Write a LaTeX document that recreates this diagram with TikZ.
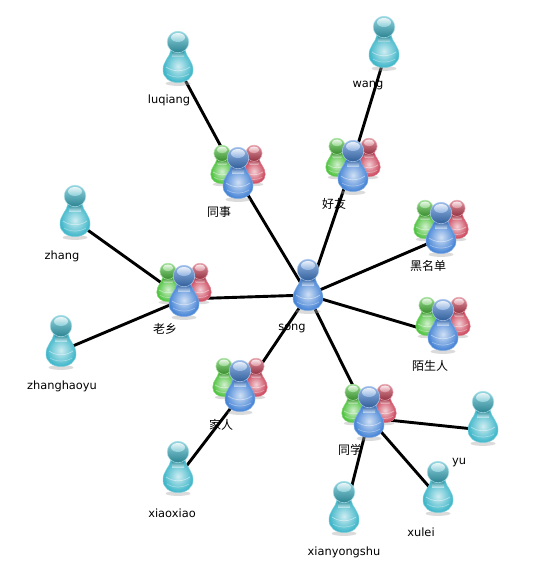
\documentclass[tikz,border=0pt]{standalone}
\usepackage{xcolor}
\usepackage{fontspec}
\setmainfont{DejaVu Sans}
\newfontfamily\cjk{Noto Sans CJK SC}
\usetikzlibrary{positioning}
\definecolor{usrTeal}{HTML}{3DB6C9}
\definecolor{usrBlue}{HTML}{4483D6}
\definecolor{usrGreen}{HTML}{4CC23C}
\definecolor{usrRed}{HTML}{CC4359}

\begin{document}
\begin{tikzpicture}[
  x=1pt, y=-1pt,
  hub/.style={inner sep=0pt, minimum size=0pt},
  lab/.style={inner sep=0pt, font=\fontsize{11.4}{13}\selectfont},
  cjklab/.style={inner sep=0pt, font=\fontsize{12}{14}\selectfont\cjk},
  link/.style={draw=black, line width=2.9pt},
  pics/person/.style={code={
    \fill[black!35, opacity=.4] (0,16.5) ellipse (12.5 and 2.4);
    \shade[inner color=#1!25!white, outer color=#1, draw=#1!70!white, line width=.5pt]
      (-7,-17) .. controls (-8,-10) and (-15,-6) .. (-15,3)
      .. controls (-15,11) and (-8,15.5) .. (0,15.5)
      .. controls (8,15.5) and (15,11) .. (15,3)
      .. controls (15,-6) and (8,-10) .. (7,-17) -- cycle;
    \shade[top color=#1!75!black, bottom color=#1!35!white, opacity=.9]
      (-6,-16) rectangle (6,-10);
    \draw[white, opacity=.45, line width=.7pt] (-12,0) .. controls (-5,5) and (5,5) .. (12,0);
    \draw[white, opacity=.35, line width=.7pt] (-11,7) .. controls (-5,11) and (5,11) .. (11,7);
    \shade[top color=#1!55!white, bottom color=#1!72!black, draw=#1!45!white, line width=.5pt]
      (0,-25) circle (10.8);
    \shade[top color=white, bottom color=#1!55!white, opacity=.8]
      (0,-29.5) ellipse (7 and 4.5);
  }},
  pics/usergroup/.style={code={
    \pic[scale=.75] at (-16,-11) {person=usrGreen};
    \pic[scale=.75] at (16,-11) {person=usrRed};
    \pic at (0,0) {person=usrBlue};
  }}
]
\useasboundingbox (0,0) rectangle (541,580);
\fill[white] (0,0) rectangle (541,580);

% the centres
\node[hub] (song) at (308,295) {};
\node[hub] (tongshi) at (239,180) {};
\node[hub] (haoyou) at (348,177) {};
\node[hub] (heimingdan) at (441,238) {};
\node[hub] (moshengren) at (443,335) {};
\node[hub] (laoxiang) at (184,299) {};
\node[hub] (jiaren) at (240,396) {};
\node[hub] (tongxue) at (369,418) {};

\node[hub] (luqiang) at (178,67) {};
\node[hub] (wang) at (386,52) {};
\node[hub] (zhang) at (75,221) {};
\node[hub] (zhanghaoyu) at (61,351) {};
\node[hub] (xiaoxiao) at (178,477) {};
\node[hub] (xianyongshu) at (344,517) {};
\node[hub] (xulei) at (438,497) {};
\node[hub] (yu) at (483,430) {};

\draw[link] (song) -- (tongshi);
\draw[link] (song) -- (haoyou);
\draw[link] (song) -- (heimingdan);
\draw[link] (song) -- (moshengren);
\draw[link] (song) -- (laoxiang);
\draw[link] (song) -- (jiaren);
\draw[link] (song) -- (tongxue);
\draw[link] (tongshi) -- (luqiang);
\draw[link] (haoyou) -- (wang);
\draw[link] (laoxiang) -- (zhang);
\draw[link] (laoxiang) -- (zhanghaoyu);
\draw[link] (jiaren) -- (xiaoxiao);
\draw[link] (tongxue) -- (xianyongshu);
\draw[link] (tongxue) -- (xulei);
\draw[link] (tongxue) -- (yu);

% the icons
\pic at (238,183) {usergroup};
\pic at (353,176) {usergroup};
\pic at (441,238) {usergroup};
\pic at (443,335) {usergroup};
\pic at (184,301) {usergroup};
\pic at (240,396) {usergroup};
\pic at (369,422) {usergroup};
\pic at (308,295) {person=usrBlue};
\pic at (178,67) {person=usrTeal};
\pic at (384,52) {person=usrTeal};
\pic at (75,221) {person=usrTeal};
\pic at (61,351) {person=usrTeal};
\pic at (178,477) {person=usrTeal};
\pic at (344,517) {person=usrTeal};
\pic at (438,497) {person=usrTeal};
\pic at (483,427) {person=usrTeal};

% the labels
\node[lab] (songlab) at (292,328) {song};
\node[lab] (luqianglab) at (169,100) {luqiang};
\node[lab] (wanglab) at (368,85) {wang};
\node[lab] (zhanglab) at (62,256) {zhang};
\node[lab] (zhanghaoyulab) at (62,386) {zhanghaoyu};
\node[lab] (xiaoxiaolab) at (172,513) {xiaoxiao};
\node[lab] (xianyongshulab) at (344,552) {xianyongshu};
\node[lab] (xuleilab) at (421,532) {xulei};
\node[lab] (yulab) at (459,462) {yu};
\node[cjklab] (tongshilab) at (219,212) {同事};
\node[cjklab] (haoyoulab) at (334,204) {好友};
\node[cjklab] (heimingdanlab) at (428,266) {黑名单};
\node[cjklab] (moshengrenlab) at (430,366) {陌生人};
\node[cjklab] (laoxianglab) at (165,329) {老乡};
\node[cjklab] (jiarenlab) at (221,425) {家人};
\node[cjklab] (tongxuelab) at (350,450) {同学};
\end{tikzpicture}
\end{document}
